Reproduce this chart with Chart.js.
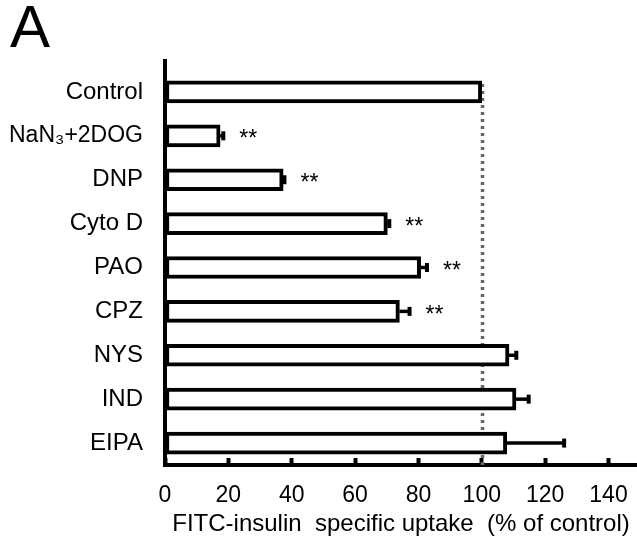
<!DOCTYPE html>
<html>
<head>
<meta charset="utf-8">
<script src="https://cdn.jsdelivr.net/npm/chart.js@4.4.0/dist/chart.umd.min.js"></script>
<style>
    html, body { margin: 0; padding: 0; background: #fff; }
    #wrap { width: 637px; height: 539px; position: relative; }
</style>
</head>
<body>
<div id="wrap"><canvas id="uptakeChart"></canvas></div>
<script>
const categories = ['Control', 'NaN₃+2DOG', 'DNP', 'Cyto D', 'PAO', 'CPZ', 'NYS', 'IND', 'EIPA'];
const uptake = [100, 17.4, 37.3, 70.2, 80.7, 74.0, 108.6, 110.8, 107.9];
const uptakeErr = [0, 1, 0.4, 0.6, 2, 3.2, 2.3, 4, 18.1];
const significance = ['', '**', '**', '**', '**', '**', '', '', ''];
const xTicks = [0, 20, 40, 60, 80, 100, 120, 140];
const controlLevel = 100;

const FONT = "'Liberation Sans', Arial, Helvetica, sans-serif";

// dotted control line, error bars, stars and the left axis line
const decorPlugin = {
    id: 'decor',
    beforeDatasetsDraw(chart) {
        const { ctx, chartArea, scales: { x, y } } = chart;
        const px = Math.round(x.getPixelForValue(controlLevel)) + 0.5;
        ctx.save();
        ctx.strokeStyle = '#666666';
        ctx.lineWidth = 3.5;
        ctx.setLineDash([3, 4]);
        ctx.beginPath();
        ctx.moveTo(px, y.getPixelForValue(0) - 8);
        ctx.lineTo(px, chartArea.bottom);
        ctx.stroke();
        ctx.restore();
    },
    afterDatasetsDraw(chart) {
        const { ctx, chartArea, scales: { x, y } } = chart;
        ctx.save();
        ctx.strokeStyle = '#000';
        ctx.fillStyle = '#000';

        uptake.forEach((value, i) => {
            const cy = y.getPixelForValue(i);
            const x0 = x.getPixelForValue(value);
            const x1 = x.getPixelForValue(value + uptakeErr[i]);
            if (uptakeErr[i] > 0) {
                ctx.lineWidth = 3.5;
                ctx.beginPath();
                ctx.moveTo(x0, cy);
                ctx.lineTo(x1, cy);
                ctx.stroke();
                ctx.fillRect(x1 - 2, cy - 4.5, 4, 9);
            }
            if (significance[i]) {
                ctx.font = `23px ${FONT}`;
                ctx.textAlign = 'left';
                ctx.textBaseline = 'middle';
                ctx.fillText(significance[i], x1 + 16, cy + 4);
            }
        });

        ctx.lineWidth = 4;
        ctx.beginPath();
        ctx.moveTo(chartArea.left, chartArea.top - 11);
        ctx.lineTo(chartArea.left, chartArea.bottom + 2);
        ctx.stroke();
        ctx.restore();
    },
};

function buildChart() {
    const ctx = document.getElementById('uptakeChart').getContext('2d');

    return new Chart(ctx, {
        type: 'bar',
        data: {
            labels: categories,
            datasets: [
                {
                    data: uptake,
                    backgroundColor: '#ffffff',
                    borderColor: '#000000',
                    borderWidth: 4,
                    borderSkipped: false,
                    barThickness: 22,
                },
            ],
        },
        options: {
            indexAxis: 'y',
            responsive: true,
            maintainAspectRatio: false,
            animation: false,
            layout: {
                padding: { left: 10, right: 0, top: 0, bottom: 0 },
            },
            plugins: {
                legend: { display: false },
                tooltip: { enabled: false },
                title: {
                    display: true,
                    text: 'A',
                    align: 'start',
                    color: '#000',
                    font: { size: 60, family: FONT, weight: 'normal', lineHeight: 1 },
                    padding: { top: 0, bottom: 10 },
                },
            },
            scales: {
                x: {
                    type: 'linear',
                    min: 0,
                    max: 149,
                    afterBuildTicks: (axis) => {
                        axis.ticks = xTicks.map((v) => ({ value: v }));
                    },
                    afterFit: (scale) => {
                        scale.height = 74;
                        scale.paddingLeft = 0;
                        scale.paddingRight = 0;
                    },
                    ticks: {
                        color: '#000',
                        font: { size: 23, family: FONT },
                        padding: 24,
                        maxRotation: 0,
                        autoSkip: false,
                    },
                    grid: {
                        display: true,
                        drawOnChartArea: false,
                        drawTicks: true,
                        tickLength: -7,
                        tickWidth: 4,
                        tickColor: '#000',
                    },
                    border: { display: true, width: 4, color: '#000' },
                    title: {
                        display: true,
                        text: 'FITC-insulin  specific uptake  (% of control)',
                        color: '#000',
                        font: { size: 24, family: FONT },
                        padding: { top: 0, bottom: 0 },
                    },
                },
                y: {
                    type: 'category',
                    offset: true,
                    afterFit: (scale) => {
                        scale.width = 155;
                        scale.paddingTop = 0;
                        scale.paddingBottom = 0;
                    },
                    ticks: {
                        color: '#000',
                        font: (c) => ({ size: c.index === 1 ? 23 : 24, family: FONT }),
                        padding: 22,
                        autoSkip: false,
                    },
                    grid: { display: false, drawTicks: false },
                    border: { display: false },
                },
            },
        },
        plugins: [decorPlugin],
    });
}

document.addEventListener('DOMContentLoaded', () => {
    buildChart();
});
</script>
</body>
</html>
